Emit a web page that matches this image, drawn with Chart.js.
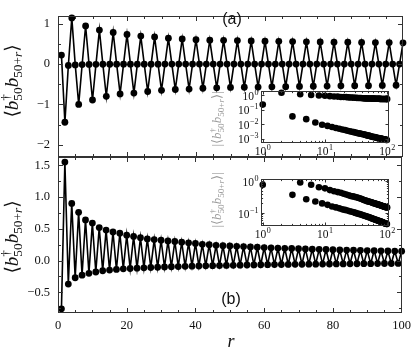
<!DOCTYPE html>
<html><head><meta charset="utf-8">
<script src="https://cdn.jsdelivr.net/npm/chart.js@4.4.1/dist/chart.umd.min.js"></script>
<style>
html,body{margin:0;padding:0;background:#fff;}
#wrap{position:relative;width:416px;height:352px;overflow:hidden;}
canvas{position:absolute;left:0;top:0;}
</style></head><body>
<div id="wrap">
<canvas id="ca" width="416" height="352"></canvas>
<canvas id="cb" width="416" height="352"></canvas>
<canvas id="cia" width="416" height="352"></canvas>
<canvas id="cib" width="416" height="352"></canvas>
</div>
<script>
// ---- data ----
const r = [1,2,3,4,5,6,7,8,9,10,11,12,13,14,15,16,17,18,19,20,21,22,23,24,25,26,27,28,29,30,
  31,32,33,34,35,36,37,38,39,40,41,42,43,44,45,46,47,48,49,50,51,52,53,54,55,56,57,58,59,60,
  61,62,63,64,65,66,67,68,69,70,71,72,73,74,75,76,77,78,79,80,81,82,83,84,85,86,87,88,89,90,
  91,92,93,94,95,96,97,98,99,100];

const panelA = [0.22,-1.44,-0.034,1.14,-0.022,-1.00,-0.013,0.94,-0.009,-0.89,
  -0.0075,0.84,-0.0063,-0.80,-0.0054,0.78,-0.0048,-0.74,-0.0043,0.73,
  -0.0039,-0.72,-0.0035,0.69,-0.0032,-0.68,-0.0030,0.67,-0.0028,-0.65,
  -0.0026,0.64,-0.0024,-0.63,-0.0023,0.62,-0.0022,-0.62,-0.0021,0.60,
  -0.0020,-0.60,-0.0019,0.59,-0.0018,-0.59,-0.0017,0.585,-0.0016,-0.58,
  -0.0016,0.58,-0.0015,-0.575,-0.0014,0.57,-0.0014,-0.57,-0.0013,0.565,
  -0.0013,-0.565,-0.0013,0.56,-0.0012,-0.56,-0.0012,0.555,-0.0011,-0.555,
  -0.0011,0.55,-0.0011,-0.55,-0.0010,0.545,-0.0010,-0.545,-0.0010,0.54,
  -0.00098,-0.54,-0.00096,0.54,-0.00093,-0.535,-0.00091,0.535,-0.00089,-0.535,
  -0.00087,0.53,-0.00085,-0.53,-0.00083,0.53,-0.00082,-0.525,-0.00080,0.525];

const panelB = [-0.76,1.55,-0.37,0.90,-0.27,0.76,-0.23,0.64,-0.20,0.59,
  -0.18,0.52,-0.16,0.48,-0.15,0.45,-0.14,0.43,-0.13,0.40,
  -0.125,0.38,-0.12,0.36,-0.114,0.34,-0.109,0.33,-0.105,0.32,
  -0.101,0.31,-0.097,0.30,-0.094,0.29,-0.091,0.28,-0.088,0.27,
  -0.085,0.255,-0.082,0.25,-0.080,0.24,-0.078,0.235,-0.076,0.23,
  -0.074,0.225,-0.072,0.22,-0.070,0.215,-0.068,0.21,-0.066,0.205,
  -0.065,0.20,-0.063,0.197,-0.062,0.193,-0.060,0.19,-0.059,0.186,
  -0.058,0.183,-0.057,0.18,-0.056,0.177,-0.055,0.174,-0.054,0.171,
  -0.053,0.168,-0.052,0.166,-0.051,0.163,-0.050,0.161,-0.049,0.158,
  -0.048,0.156,-0.047,0.154,-0.046,0.152,-0.046,0.15,-0.045,0.148];

const xMajorTicks = [0,20,40,60,80,100];
const xMinorTicks = [5,10,15,25,30,35,45,50,55,65,70,75,85,90,95];
const yTicksA = [-2,-1,0,1];
const yMinorA = [-1.5,-0.5,0.5];
const yTicksB = [-0.5,0,0.5,1,1.5];
const yMinorB = [-0.75,-0.25,0.25,0.75,1.25];
const insetXTicks = [1,10,100];
const insetXMinor = [2,3,4,5,6,7,8,9,20,30,40,50,60,70,80,90];
const insetYTicksA = [1,0.1,0.01,0.001];
const insetYTicksB = [1,0.1];
const insetYMinorB = [0.05,0.06,0.07,0.08,0.09,0.2,0.3,0.4,0.5,0.6,0.7,0.8,0.9];

// ---- helpers ----
const SERIF = '"Liberation Serif", "DejaVu Serif", serif';
const MATHF = '"Liberation Serif", "DejaVu Serif", "DejaVu Sans", serif';
function fontStr(sz, it){ return (it ? 'italic ' : '') + sz + 'px ' + MATHF; }
function segW(ctx, segs, sz){ let w = 0; for (const s of segs){ ctx.font = fontStr(sz, s.it); w += ctx.measureText(s.t).width; } return w; }
function drawSegs(ctx, segs, x, y, sz){ for (const s of segs){ ctx.font = fontStr(sz, s.it); ctx.fillText(s.t, x, y); x += ctx.measureText(s.t).width; } return x; }
function drawMath(ctx, parts, cx, cy, sz, color, rot){
  ctx.save();
  ctx.translate(cx, cy);
  if (rot) ctx.rotate(-Math.PI/2);
  ctx.fillStyle = color; ctx.textBaseline = 'alphabetic'; ctx.textAlign = 'left';
  const ss = sz*0.7;
  let total = 0;
  for (const p of parts){
    if (p.base) total += segW(ctx, p.base, sz);
    else total += Math.max(p.sup ? segW(ctx, p.sup, ss) : 0, p.sub ? segW(ctx, p.sub, ss) : 0);
  }
  let x = -total/2; const y = sz*0.3;
  for (const p of parts){
    if (p.base) x = drawSegs(ctx, p.base, x, y, sz);
    else {
      const w = Math.max(p.sup ? segW(ctx, p.sup, ss) : 0, p.sub ? segW(ctx, p.sub, ss) : 0);
      if (p.sup) drawSegs(ctx, p.sup, x, y - sz*0.4, ss);
      if (p.sub) drawSegs(ctx, p.sub, x, y + sz*0.22, ss);
      x += w;
    }
  }
  ctx.restore();
}
const corrParts = [
  {base:[{t:'\u27E8'}]}, {base:[{t:'b', it:1}]}, {sup:[{t:'\u2020'}], sub:[{t:'50'}]},
  {base:[{t:'b', it:1}]}, {sub:[{t:'50+'},{t:'r', it:1}]}, {base:[{t:'\u27E9'}]}
];
const absParts = [{base:[{t:'|'}]}].concat(corrParts, [{base:[{t:'|'}]}]);

function expStr(v){ const e = Math.round(Math.log10(v)); return e < 0 ? '\u2212' + Math.abs(e) : String(e); }
function drawPow(ctx, v, x, y, align, sz){
  const es = sz*0.7, ex = expStr(v);
  ctx.font = sz + 'px ' + SERIF; const w1 = ctx.measureText('10').width;
  ctx.font = es + 'px ' + SERIF; const w2 = ctx.measureText(ex).width;
  const tw = w1 + w2 + 0.5;
  const x0 = align === 'right' ? x - tw : x - tw/2;
  ctx.textAlign = 'left'; ctx.textBaseline = 'alphabetic';
  ctx.font = sz + 'px ' + SERIF; ctx.fillText('10', x0, y);
  ctx.font = es + 'px ' + SERIF; ctx.fillText(ex, x0 + w1 + 0.5, y - sz*0.42);
}

function framePlugin(cfg){
  return {
    id: 'frame',
    beforeDatasetsDraw(chart){
      if (!cfg.fill) return;
      const a = chart.chartArea, c = chart.ctx;
      c.save(); c.fillStyle = '#fff'; c.fillRect(a.left, a.top, a.right - a.left, a.bottom - a.top); c.restore();
    },
    afterDraw(chart){
      const c = chart.ctx, a = chart.chartArea, xs = chart.scales.x, ys = chart.scales.y;
      const L = Math.round(a.left) + 0.5, R = Math.round(a.right) - 0.5, T = Math.round(a.top) + 0.5, B = Math.round(a.bottom) - 0.5;
      c.save();
      c.strokeStyle = cfg.color; c.lineWidth = 1;
      c.strokeRect(L, T, R - L, B - T);
      c.beginPath();
      const tx = (vals, len) => { for (const v of vals){ const p = Math.round(xs.getPixelForValue(v)) + 0.5; if (p < L - 0.1 || p > R + 0.1) continue; c.moveTo(p, B); c.lineTo(p, B - len); c.moveTo(p, T); c.lineTo(p, T + len); } };
      const ty = (vals, len) => { for (const v of vals){ const p = Math.round(ys.getPixelForValue(v)) + 0.5; if (p < T - 0.1 || p > B + 0.1) continue; c.moveTo(L, p); c.lineTo(L + len, p); c.moveTo(R, p); c.lineTo(R - len, p); } };
      tx(cfg.xMajor, cfg.major); tx(cfg.xMinor, cfg.minor);
      ty(cfg.yMajor, cfg.major); ty(cfg.yMinor, cfg.minor);
      c.stroke();
      c.fillStyle = '#111';
      if (cfg.insetLabels){
        for (const v of cfg.yMajor){ const p = ys.getPixelForValue(v); drawPow(c, v, L - 3, p + 4.5, 'right', 11.5); }
        for (const v of cfg.xMajor){ const p = xs.getPixelForValue(v); drawPow(c, v, p, B + 12.5, 'center', 11.5); }
      }
      if (cfg.text){ for (const t of cfg.text){ c.font = t.font; c.fillStyle = t.color || '#111'; c.textAlign = 'center'; c.textBaseline = 'middle'; c.fillText(t.t, t.x, t.y); } }
      if (cfg.math){ for (const m of cfg.math){ drawMath(c, m.parts, m.x, m.y, m.size, m.color, true); } }
      c.restore();
    }
  };
}

const baseOpts = {
  responsive:false, animation:false, devicePixelRatio:1, events:[],
  plugins:{legend:{display:false}, tooltip:{enabled:false}}
};
function lineDataset(vals){
  return { data: r.map((x,i) => ({x:x, y:vals[i]})), borderColor:'#000', backgroundColor:'#000',
    borderWidth:1.6, pointRadius:3.4, pointHoverRadius:3.4, pointBorderWidth:0, tension:0, clip:false };
}
function fmtInt(v){ return v < 0 ? '\u2212' + Math.abs(v) : String(v); }
function fmt1(v){ return v < 0 ? '\u2212' + Math.abs(v).toFixed(1) : v.toFixed(1); }
const tickFont = {family: SERIF, size: 12.5};

// Panel (a)
new Chart(document.getElementById('ca'), {
  type:'line',
  data:{datasets:[lineDataset(panelA)]},
  options:Object.assign({}, baseOpts, {
    layout:{padding:{left:0, right:13, top:3, bottom:352-157}},
    scales:{
      x:{type:'linear', display:false, min:0, max:100},
      y:{type:'linear', min:-2.3, max:1.2,
        afterFit(s){ s.width = 58; },
        afterBuildTicks(s){ s.ticks = yTicksA.map(v => ({value:v})); },
        grid:{display:false, drawTicks:false}, border:{display:false},
        ticks:{padding:8, color:'#111', font:tickFont, callback:(v) => fmtInt(v)}}
    }
  }),
  plugins:[framePlugin({color:'#333', major:4.5, minor:2.5, xMajor:xMajorTicks, xMinor:xMinorTicks, yMajor:yTicksA, yMinor:yMinorA,
    text:[{t:'(a)', x:232, y:20, font:'16px "Liberation Sans", Arial, sans-serif'}],
    math:[{parts:corrParts, x:12, y:81, size:19, color:'#111'}]})]
});

// Panel (b)
new Chart(document.getElementById('cb'), {
  type:'line',
  data:{datasets:[lineDataset(panelB)]},
  options:Object.assign({}, baseOpts, {
    layout:{padding:{left:0, right:13, top:157, bottom:0}},
    scales:{
      x:{type:'linear', min:0, max:100,
        afterFit(s){ s.height = 39; },
        afterBuildTicks(s){ s.ticks = xMajorTicks.map(v => ({value:v})); },
        grid:{display:false, drawTicks:false}, border:{display:false},
        ticks:{padding:5, color:'#111', font:tickFont, autoSkip:false, maxRotation:0}},
      y:{type:'linear', min:-0.825, max:1.63,
        afterFit(s){ s.width = 58; },
        afterBuildTicks(s){ s.ticks = yTicksB.map(v => ({value:v})); },
        grid:{display:false, drawTicks:false}, border:{display:false},
        ticks:{padding:8, color:'#111', font:tickFont, callback:(v) => fmt1(v)}}
    }
  }),
  plugins:[framePlugin({color:'#333', major:4.5, minor:2.5, xMajor:xMajorTicks, xMinor:xMinorTicks, yMajor:yTicksB, yMinor:yMinorB,
    text:[{t:'(b)', x:231, y:300, font:'16px "Liberation Sans", Arial, sans-serif'},
          {t:'r', x:231, y:342, font:'italic 18px ' + SERIF}],
    math:[{parts:corrParts, x:12, y:237, size:19, color:'#111'}]})]
});

function insetDataset(vals){
  return { data: r.map((x,i) => ({x:x, y:Math.abs(vals[i])})), backgroundColor:'#000', borderColor:'#000',
    pointRadius:3.3, pointHoverRadius:3.3, pointBorderWidth:0, showLine:false, clip:false };
}

// Inset (a)
new Chart(document.getElementById('cia'), {
  type:'scatter',
  data:{datasets:[insetDataset(panelA)]},
  options:Object.assign({}, baseOpts, {
    layout:{padding:{left:260.5, right:416-389, top:91, bottom:352-143}},
    scales:{
      x:{type:'logarithmic', display:false, min:0.92, max:107},
      y:{type:'logarithmic', display:false, min:0.0005, max:1.9}
    }
  }),
  plugins:[framePlugin({fill:true, insetLabels:true, color:'#333', major:3, minor:1.6, xMajor:insetXTicks, xMinor:insetXMinor, yMajor:insetYTicksA, yMinor:[],
    math:[{parts:absParts, x:217, y:119, size:13, color:'#999'}]})]
});

// Inset (b)
new Chart(document.getElementById('cib'), {
  type:'scatter',
  data:{datasets:[insetDataset(panelB)]},
  options:Object.assign({}, baseOpts, {
    layout:{padding:{left:260.5, right:416-389, top:179, bottom:352-226}},
    scales:{
      x:{type:'logarithmic', display:false, min:0.92, max:107},
      y:{type:'logarithmic', display:false, min:0.0393, max:1.155}
    }
  }),
  plugins:[framePlugin({fill:true, insetLabels:true, color:'#333', major:3, minor:1.6, xMajor:insetXTicks, xMinor:insetXMinor, yMajor:insetYTicksB, yMinor:insetYMinorB,
    math:[{parts:absParts, x:217, y:200, size:13, color:'#999'}]})]
});
</script>
</body></html>
